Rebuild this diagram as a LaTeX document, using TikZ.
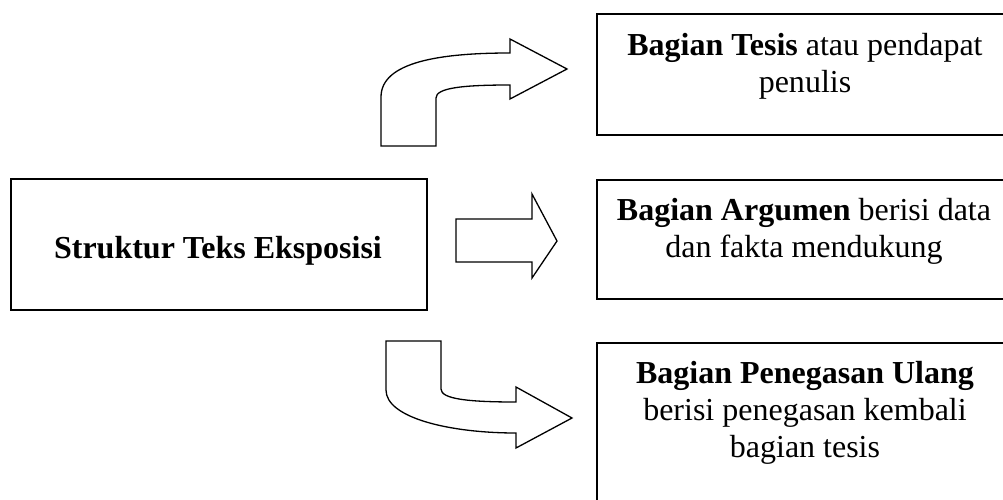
\documentclass[tikz,border=0pt]{standalone}
\usepackage{fontspec}
\setmainfont{Liberation Serif}
\begin{document}
\begin{tikzpicture}[x=1pt,y=-1pt,
  box/.style={draw=black, line width=1.6pt, rectangle, inner sep=0pt},
  txt/.style={align=center, inner sep=0pt, font=\fontsize{32}{37}\selectfont},
  blockarrow/.style={draw=black, line width=1.3pt, fill=white, line join=miter}]
\useasboundingbox (0,0) rectangle (1003,500);
\clip (0,0) rectangle (1003,500);
% boxes
\node[box, minimum width=416pt, minimum height=131pt] (main) at (219,244.5) {};
\node[box, minimum width=414pt, minimum height=121pt] (tesis) at (804,74.5) {};
\node[box, minimum width=414pt, minimum height=119pt] (argumen) at (804,239.5) {};
\node[box, minimum width=414pt, minimum height=177pt] (ulang) at (804,431.5) {};
% texts
\node[txt, anchor=base, font=\fontsize{32}{37}\selectfont\bfseries] (maintxt) at (218,258) {Struktur Teks Eksposisi};
\node[txt, anchor=north] (tesistxt) at (805,33.5) {\textbf{Bagian Tesis} atau pendapat\\penulis};
\node[txt, anchor=north] (argtxt) at (804,198.5) {\textbf{Bagian Argumen} berisi data\\dan fakta mendukung};
\node[txt, anchor=north] (ulangtxt) at (805,361.5) {\textbf{Bagian Penegasan Ulang}\\berisi penegasan kembali\\bagian tesis};
% block arrows
\draw[blockarrow] (381,146) -- (381,97) .. controls (381,62) and (440,53) .. (510,53)
  -- (510,39) -- (567,69) -- (510,99) -- (510,85)
  .. controls (462,85) and (436,88) .. (436,98) -- (436,146) -- cycle;
\draw[blockarrow] (456,219) -- (532,219) -- (532,194) -- (557,241) -- (532,278) -- (532,262) -- (456,262) -- cycle;
\draw[blockarrow] (386,341) -- (441,341) -- (441,389) .. controls (441,399) and (468,402) .. (516,402)
  -- (516,387) -- (572,418) -- (516,448) -- (516,433)
  .. controls (450,433) and (386,418) .. (386,390) -- cycle;
\end{tikzpicture}
\end{document}
